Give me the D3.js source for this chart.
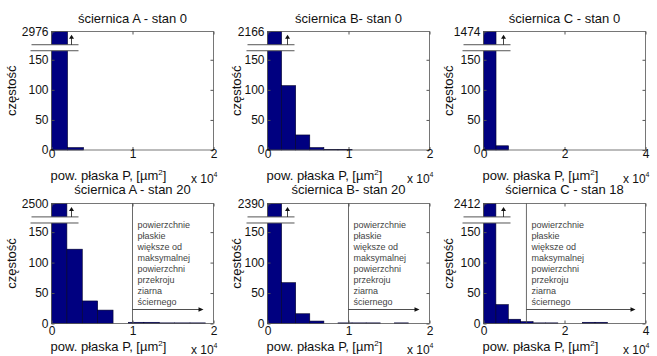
<!DOCTYPE html>
<html>
<head>
<meta charset="utf-8">
<script src="https://cdn.jsdelivr.net/npm/d3@7"></script>
<style>
  body { margin: 0; background: #fff; }
  svg { display: block; font-family: "Liberation Sans", Arial, sans-serif; }
</style>
</head>
<body>
<div id="chart"></div>
<script>
// dane
const titles = ['ściernica A - stan 0', 'ściernica B- stan 0', 'ściernica C - stan 0',
    'ściernica A - stan 20', 'ściernica B- stan 20', 'ściernica C - stan 18']
const topLabels = ['2976', '2166', '1474', '2500', '2390', '2412']
const xMaxes = [2e4, 2e4, 4e4, 2e4, 2e4, 4e4]
const xTickValues = [[0, 1e4, 2e4], [0, 1e4, 2e4], [0, 2e4, 4e4], [0, 1e4, 2e4], [0, 1e4, 2e4], [0, 2e4, 4e4]]
const binWidths = [1980, 1740, 3090, 1900, 1740, 3060]
const counts = [
    [2976, 4],
    [2166, 107, 25, 4, 1, 1],
    [1474, 7],
    [2500, 122, 37, 22, 0, 2, 2, 1, 1, 1],
    [2390, 67, 16, 4, 0, 1, 1, 1, 0, 1],
    [2412, 31, 7, 3, 1, 1, 0, 0, 2, 2]
]
const limitValues = [null, null, null, 1e4, 1e4, 1.06e4]
const yTickValues = [0, 50, 100, 150]
const yMax = 197
const noteLines = ['powierzchnie', 'płaskie', 'większe od', 'maksymalnej', 'powierzchni', 'przekroju', 'ziarna', 'ściernego']

// układ
const width = 657
const height = 356
const colLeft = [51.5, 267.5, 483.5]
const plotW = 162
const rowTop = [31.5, 203.5]
const plotH = [118.5, 120]
const ylabelOff = [-40, -31, -35]
const rowText = [
    { title: 23, tick: 158, xlabel: 180, x10: 183 },
    { title: 194, tick: 334.5, xlabel: 351, x10: 354 }
]

const svg = d3.select('#chart').append('svg').attr('width', width).attr('height', height)

titles.forEach((title, i) => {
    const row = Math.floor(i / 3)
    const col = i % 3
    const w = plotW
    const h = plotH[row]
    const g = svg.append('g').attr('transform', `translate(${colLeft[col]}, ${rowTop[row]})`)

    const x = d3.scaleLinear().domain([0, xMaxes[i]]).range([0, w])
    const y = d3.scaleLinear().domain([0, yMax]).range([h, 0]).clamp(true)

    const bins = counts[i].map((c, k) => ({ x0: k * binWidths[i], x1: (k + 1) * binWidths[i], c }))

    // słupki
    g.selectAll('rect.bar')
        .data(bins.filter((d) => d.c > 0))
        .enter()
        .append('rect')
        .attr('class', 'bar')
        .attr('x', (d) => x(d.x0))
        .attr('width', (d) => x(d.x1) - x(d.x0))
        .attr('y', (d) => y(d.c))
        .attr('height', (d) => h - y(d.c))
        .attr('fill', '#000080')
        .attr('stroke', '#00002a')
        .attr('stroke-width', 0.6)

    // ramka
    g.append('rect').attr('width', w).attr('height', h)
        .attr('fill', 'none').attr('stroke', '#555').attr('stroke-width', 0.8)

    // osie
    const yAxis = d3.axisLeft(y)
        .tickValues(yTickValues.concat([yMax]))
        .tickSize(-3)
        .tickPadding(3)
        .tickFormat((d) => (d === yMax ? topLabels[i] : d))
    const gy = g.append('g').call(yAxis)
    gy.select('.domain').remove()
    gy.selectAll('line').attr('stroke', '#555')
    gy.selectAll('text').style('font-size', '12px').attr('fill', '#111')

    const gyr = g.append('g').attr('transform', `translate(${w},0)`)
        .call(d3.axisRight(y).tickValues(yTickValues).tickSize(-3).tickFormat(''))
    gyr.select('.domain').remove()
    gyr.selectAll('line').attr('stroke', '#555')

    const gx = g.append('g').attr('transform', `translate(0,${h})`)
        .call(d3.axisBottom(x).tickValues(xTickValues[i]).tickSize(-3).tickFormat((d) => d / 1e4))
    gx.select('.domain').remove()
    gx.selectAll('line').attr('stroke', '#555')
    gx.selectAll('text').style('font-size', '12px').attr('fill', '#111')
        .attr('dy', null).attr('y', rowText[row].tick - rowTop[row] - h)

    const gxt = g.append('g')
        .call(d3.axisTop(x).tickValues(xTickValues[i]).tickSize(-3).tickFormat(''))
    gxt.select('.domain').remove()
    gxt.selectAll('line').attr('stroke', '#555')

    // przerwa osi
    const yb1 = y(175)
    const yb2 = y(165)
    g.append('rect').attr('x', -20).attr('width', 47).attr('y', yb1).attr('height', yb2 - yb1).attr('fill', '#fff')
    g.append('line').attr('x1', -20).attr('x2', 27).attr('y1', yb1).attr('y2', yb1).attr('stroke', '#555')
    g.append('line').attr('x1', -21).attr('x2', 27).attr('y1', yb2).attr('y2', yb2).attr('stroke', '#555')
    g.append('line').attr('x1', 20).attr('x2', 20).attr('y1', yb1).attr('y2', yb1 - 7).attr('stroke', '#111').attr('stroke-width', 0.8)
    g.append('path').attr('d', `M17.5,${yb1 - 6} L20,${yb1 - 10} L22.5,${yb1 - 6} Z`).attr('fill', '#111')

    // granica
    if (limitValues[i] !== null) {
        const lx = x(limitValues[i])
        g.append('line').attr('x1', lx).attr('x2', lx).attr('y1', 0).attr('y2', h)
            .attr('stroke', '#444').attr('stroke-width', 0.8)
        const note = g.append('text').style('font-size', '9px').attr('fill', '#444')
        noteLines.forEach((t, k) => note.append('tspan').attr('x', lx + 5).attr('y', 24 + k * 11).text(t))
        const ay = 106
        const ax2 = w - 10
        g.append('line').attr('x1', lx).attr('x2', ax2 - 4).attr('y1', ay).attr('y2', ay)
            .attr('stroke', '#222').attr('stroke-width', 0.8)
        g.append('path').attr('d', `M${ax2 - 5},${ay - 2.2} L${ax2},${ay} L${ax2 - 5},${ay + 2.2} Z`).attr('fill', '#111')
    }

    // tytuł
    svg.append('text').attr('x', colLeft[col] + w / 2).attr('y', rowText[row].title)
        .attr('text-anchor', 'middle').style('font-size', '13px').attr('fill', '#111').text(title)

    // etykieta osi x
    const xl = svg.append('text').attr('x', colLeft[col] + w / 2 - 24).attr('y', rowText[row].xlabel)
        .attr('text-anchor', 'middle').style('font-size', '13px').attr('fill', '#111')
    xl.append('tspan').text('pow. płaska P, [µm')
    xl.append('tspan').attr('dy', -5).style('font-size', '8px').text('2')
    xl.append('tspan').attr('dy', 5).text(']')

    const x10 = svg.append('text').attr('x', colLeft[col] + w + 4).attr('y', rowText[row].x10)
        .attr('text-anchor', 'end').style('font-size', '12px').attr('fill', '#111')
    x10.append('tspan').text('x 10')
    x10.append('tspan').attr('dy', -6).style('font-size', '7px').text('4')

    // etykieta osi y
    svg.append('text')
        .attr('transform', `translate(${colLeft[col] + ylabelOff[col]}, ${rowTop[row] + h / 2}) rotate(-90)`)
        .attr('text-anchor', 'middle').attr('dy', '0.35em')
        .style('font-size', '13px').attr('fill', '#111').text('częstość')
})
</script>
</body>
</html>
